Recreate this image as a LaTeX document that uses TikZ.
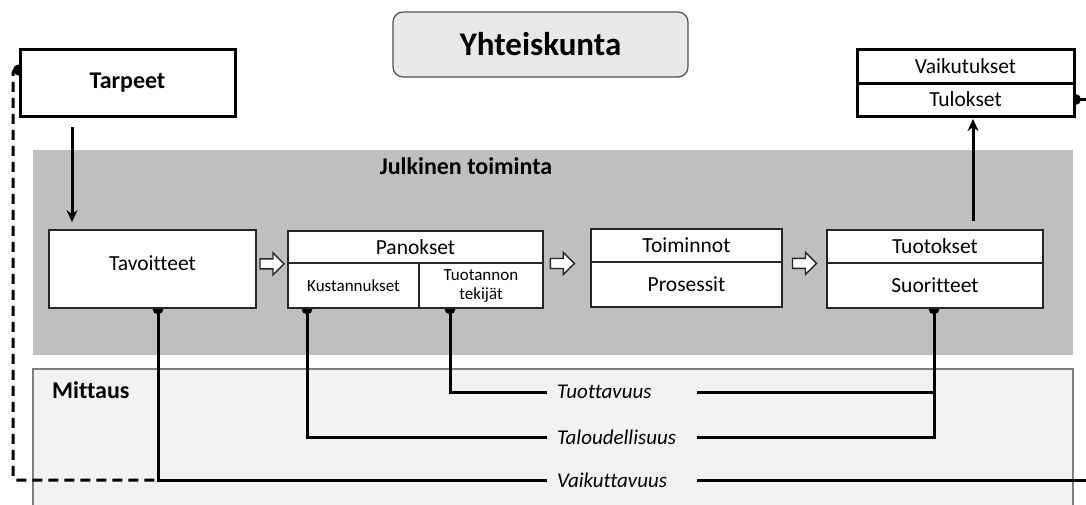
\documentclass[tikz,border=0pt]{standalone}
\usepackage{fontspec}
\setmainfont{Carlito}[Ligatures=NoCommon]
\usetikzlibrary{calc,arrows.meta}
\pgfdeclarelayer{bg}\pgfdeclarelayer{conn}\pgfsetlayers{bg,conn,main}
\definecolor{jtgray}{HTML}{BFBFBF}
\definecolor{mgray}{HTML}{F2F2F2}
\definecolor{ygray}{HTML}{E8E8E8}
\definecolor{bdr}{HTML}{262626}
\definecolor{mbdr}{HTML}{7F7F7F}
\begin{document}
\begin{tikzpicture}[x=1pt,y=-1pt,
  box/.style={draw=bdr, line width=1.7pt, fill=white, inner sep=0pt, font=\fontsize{21.5}{25}\selectfont},
  bigbox/.style={draw=black, line width=3pt, fill=white, inner sep=0pt, font=\fontsize{21.5}{25}\selectfont},
  smalltxt/.style={font=\fontsize{17}{19}\selectfont, align=center},
  boldtxt/.style={font=\bfseries\fontsize{24}{28}\selectfont, inner sep=0pt},
  conn/.style={line width=3pt, draw=black},
  arr/.style={conn, -{Stealth[length=12pt,width=11pt]}},
  dashconn/.style={conn, dash pattern=on 10pt off 6pt},
  lbl/.style={anchor=west, text width=130pt, inner xsep=10pt, inner ysep=0pt, align=left, font=\fontsize{21}{25}\selectfont\itshape},
  oarr/.pic={\draw[fill=white, line width=1.4pt, draw=bdr, line join=miter] (-12,-5) -- (1,-5) -- (1,-11) -- (12,0) -- (1,11) -- (1,5) -- (-12,5) -- cycle;}
]
\useasboundingbox (0,0) rectangle (1086,504);

% regions
\begin{pgfonlayer}{bg}
\fill[jtgray] (33,150) rectangle (1073,355);
\filldraw[fill=mgray, draw=mbdr, line width=1.3pt] (33,369) rectangle (1073,520);
\end{pgfonlayer}
\node[boldtxt] (jt) at (466,166) {Julkinen toiminta};
\node[boldtxt, anchor=west] (mit) at (52,390) {Mittaus};

% top boxes
\node[draw=bdr!80, line width=1.2pt, fill=ygray, rounded corners=10pt, minimum width=295pt, minimum height=65pt, font=\bfseries\fontsize{33}{38}\selectfont, inner sep=0pt] (yht) at (540.5,44.5) {Yhteiskunta};
\node[bigbox, minimum width=215pt, minimum height=67pt, font=\bfseries\fontsize{24}{28}\selectfont] (tarp) at (127.5,82.5) {Tarpeet};
\node[bigbox, minimum width=217pt, minimum height=34pt] (vaik) at (965.5,66) {Vaikutukset};
\node[bigbox, minimum width=217pt, minimum height=33pt] (tul) at (965.5,99.5) {Tulokset};

% process boxes
\node[box, minimum width=207pt, minimum height=78pt] (tav) at (152.5,269) {\raisebox{11pt}{Tavoitteet}};
\node[box, minimum width=255pt, minimum height=32pt] (pan) at (415.5,247) {Panokset};
\node[box, smalltxt, minimum width=131pt, minimum height=45pt] (kus) at (353.5,285.5) {Kustannukset};
\node[box, smalltxt, minimum width=124pt, minimum height=45pt] (tek) at (481,285.5) {Tuotannon\\tekijät};
\node[box, minimum width=191pt, minimum height=33pt] (toi) at (686.5,245.5) {Toiminnot};
\node[box, minimum width=191pt, minimum height=45pt] (pro) at (686.5,284.5) {Prosessit};
\node[box, minimum width=216pt, minimum height=33pt] (tuo) at (935,246.5) {Tuotokset};
\node[box, minimum width=216pt, minimum height=45pt] (suo) at (935,285.5) {Suoritteet};

% measurement labels
\node[lbl] (tuol) at (547,392) {Tuottavuus};
\node[lbl] (tal) at (547,437) {Taloudellisuus};
\node[lbl] (vai) at (547,480) {Vaikuttavuus};

% open arrows
\pic at ($(tav.east |- pan.south)!.5!(pan.south west)$) {oarr};
\pic at ($(pan.south east)!.4!(toi.south west)$) {oarr};
\pic at ($(toi.south east)!.5!(tuo.south west)$) {oarr};

% helper coordinates
\coordinate (xa) at (72,0);
\coordinate (xb) at (973,0);
\coordinate (c1) at (158,0);
\coordinate (c2) at (307,0);
\coordinate (c3) at (450,0);
\coordinate (c4) at (934,0);
\coordinate (rim) at (1092,0);
\coordinate (cd) at (0,70);
\coordinate (dl) at (13,0);

\begin{pgfonlayer}{conn}
\draw[arr, shorten <=9pt, shorten >=7pt] (tarp.south -| xa) -- (tav.north -| xa);
\draw[arr, shorten <=8pt, shorten >=1.5pt] (tuo.north -| xb) -- (tul.south -| xb);

\draw[conn] (tav.south -| c1) |- (vai.west);
\fill (tav.south -| c1) circle (5.5pt);
\draw[conn] (kus.south -| c2) |- (tal.west);
\fill (kus.south -| c2) circle (5.5pt);
\draw[conn] (tek.south -| c3) |- (tuol.west);
\fill (tek.south -| c3) circle (5.5pt);
\draw[conn] (tuol.east) -- (tuol.east -| c4);
\draw[conn] (tal.east) -| (suo.south -| c4);
\fill (suo.south -| c4) circle (5.5pt);
\draw[conn] (vai.east) -- (vai.east -| rim);
\draw[conn] (tul.east) -- (tul.east -| rim);
\fill (tul.east) circle (5.5pt);
\draw[dashconn, rounded corners=3pt] (tarp.west |- cd) -- (dl |- cd) -- (dl |- vai) -- (c1 |- vai);
\fill (tarp.west |- cd) circle (5.5pt);
\end{pgfonlayer}
\end{tikzpicture}
\end{document}
